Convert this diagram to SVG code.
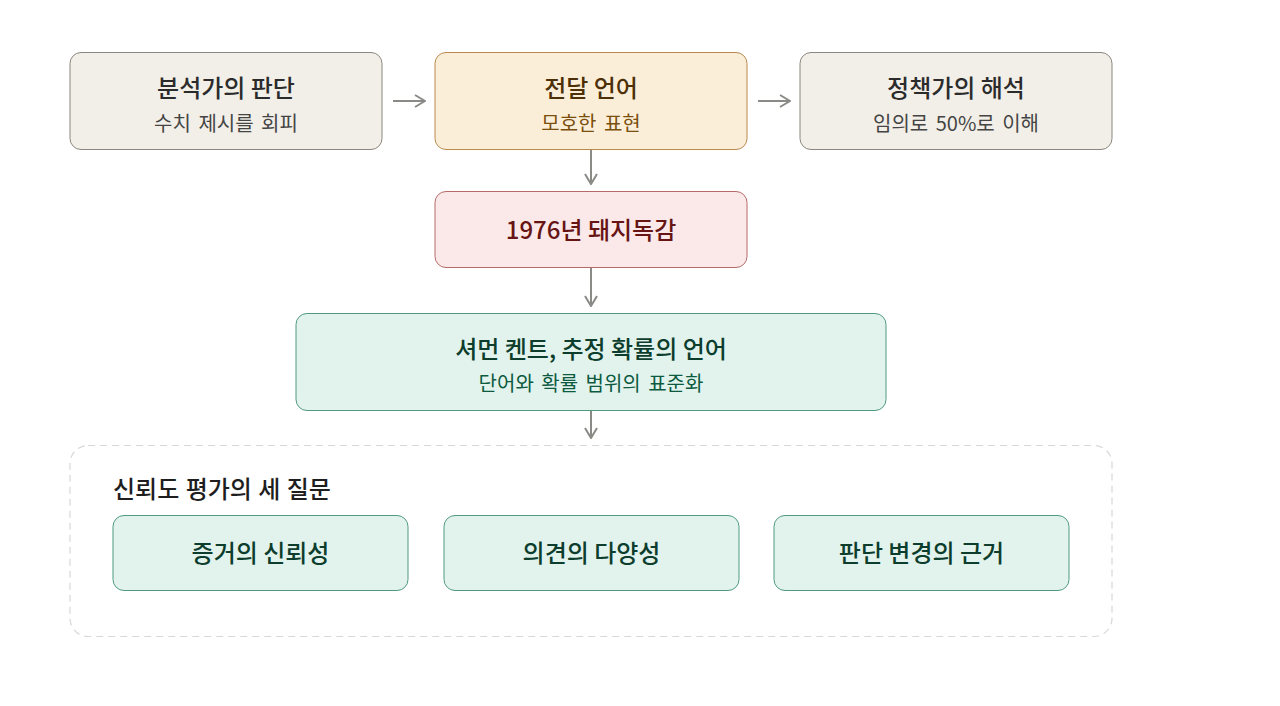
<svg xmlns="http://www.w3.org/2000/svg" width="1280" height="706" viewBox="0 0 1280 706">
<defs>
<style>
text{font-family:"Noto Sans CJK KR","Noto Sans",sans-serif;text-anchor:middle}
.t{font-size:24px;font-weight:500}
.s{font-size:20px;font-weight:400;word-spacing:3px}
.gray rect{fill:#f2efe8;stroke:#8c877e;stroke-width:1}
.gray .t{fill:#2b2b2b}.gray .s{fill:#444}
.amber rect{fill:#fbeed9;stroke:#b88a4e;stroke-width:1}
.amber .t{fill:#4d3008}.amber .s{fill:#7a4e0c}
.red rect{fill:#fbe9e9;stroke:#b56a6a;stroke-width:1}
.red .t{fill:#661414}
.green rect{fill:#e1f3ec;stroke:#4f9a7e;stroke-width:1}
.green .t{fill:#0d3d2c}.green .s{fill:#0d5a40}
.conn line{stroke:#8a8a86;stroke-width:2;fill:none}
</style>
<marker id="ah" viewBox="0 0 12 14" refX="11" refY="7" markerWidth="12" markerHeight="14" markerUnits="userSpaceOnUse" orient="auto">
<path d="M1,1 L11,7 L1,13" fill="none" stroke="#8a8a86" stroke-width="2"/>
</marker>
</defs>
<rect width="1280" height="706" fill="#ffffff"/>
<g id="container">
<rect x="70" y="445.5" width="1042" height="191" rx="18" fill="#ffffff" stroke="#d8d8d8" stroke-width="1.2" stroke-dasharray="7 5"/>
<text x="113" y="498" style="text-anchor:start;font-size:24px;font-weight:500;word-spacing:1px" fill="#1e1e1e">신뢰도 평가의 세 질문</text>
</g>
<g id="analyst" class="gray">
<rect x="70" y="52.5" width="312" height="97" rx="11"/>
<text class="t" x="226" y="97">분석가의 판단</text>
<text class="s" x="226" y="131">수치 제시를 회피</text>
</g>
<g id="language" class="amber">
<rect x="435" y="52.5" width="312" height="97" rx="11"/>
<text class="t" x="591" y="97">전달 언어</text>
<text class="s" x="591" y="131">모호한 표현</text>
</g>
<g id="policy" class="gray">
<rect x="800" y="52.5" width="312" height="97" rx="11"/>
<text class="t" x="956" y="97">정책가의 해석</text>
<text class="s" x="956" y="131">임의로 50%로 이해</text>
</g>
<g id="swineflu" class="red">
<rect x="435" y="191.5" width="312" height="76" rx="11"/>
<text class="t" x="591" y="239">1976년 돼지독감</text>
</g>
<g id="kent" class="green">
<rect x="296" y="313.5" width="590" height="97" rx="11"/>
<text class="t" x="591" y="358">셔먼 켄트, 추정 확률의 언어</text>
<text class="s" x="591" y="391">단어와 확률 범위의 표준화</text>
</g>
<g id="q1" class="green">
<rect x="113" y="515.5" width="295" height="75" rx="11"/>
<text class="t" x="260.5" y="562">증거의 신뢰성</text>
</g>
<g id="q2" class="green">
<rect x="444" y="515.5" width="295" height="75" rx="11"/>
<text class="t" x="591.5" y="562">의견의 다양성</text>
</g>
<g id="q3" class="green">
<rect x="774" y="515.5" width="295" height="75" rx="11"/>
<text class="t" x="921.5" y="562">판단 변경의 근거</text>
</g>
<g id="connectors" class="conn">
<line x1="393" y1="101" x2="425" y2="101" marker-end="url(#ah)"/>
<line x1="758" y1="101" x2="790" y2="101" marker-end="url(#ah)"/>
<line x1="591" y1="150" x2="591" y2="184" marker-end="url(#ah)"/>
<line x1="591" y1="268" x2="591" y2="306" marker-end="url(#ah)"/>
<line x1="591" y1="411" x2="591" y2="438" marker-end="url(#ah)"/>
</g>
</svg>
